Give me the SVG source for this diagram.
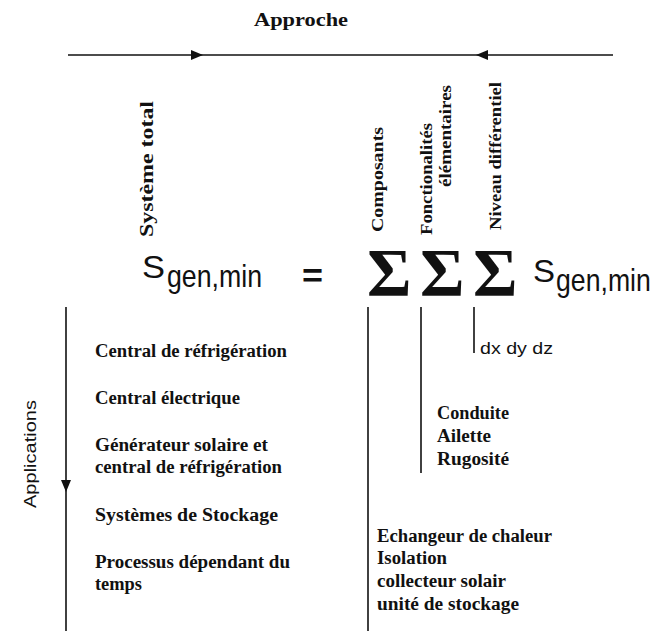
<svg xmlns="http://www.w3.org/2000/svg" width="653" height="631" viewBox="0 0 653 631">
<defs>
<style>
.s{font-family:"Liberation Serif","Times New Roman",serif;font-weight:bold;font-size:18px;fill:#111}
.r{font-family:"Liberation Serif","Times New Roman",serif;font-weight:bold;font-size:17px;fill:#111}
.sig{font-family:"Liberation Serif","Times New Roman",serif;font-weight:bold;font-size:68px;fill:#111}
.a{font-family:"Liberation Sans",Arial,sans-serif;fill:#111}
.ln{stroke:#111;stroke-width:1.6;fill:none}
</style>
</defs>
<rect width="653" height="631" fill="#fff"/>
<g id="connectors">
<line class="ln" x1="68" y1="55" x2="613" y2="55" stroke-width="2"/>
<polygon points="203,55 191,50 191,60" fill="#111"/>
<polygon points="476,55 488,50 488,60" fill="#111"/>
<line class="ln" x1="66" y1="307" x2="66" y2="631"/>
<polygon points="66,492 61,480 71,480" fill="#111"/>
<line class="ln" x1="368" y1="307" x2="368" y2="631"/>
<line class="ln" x1="421" y1="307" x2="421" y2="473"/>
<line class="ln" x1="474" y1="307" x2="474" y2="353"/>
</g>
<g id="approche"><text class="s" x="254" y="26" textLength="94" lengthAdjust="spacingAndGlyphs">Approche</text></g>
<g id="systeme-total"><text class="s" transform="translate(153,237) rotate(-90)" textLength="136" lengthAdjust="spacingAndGlyphs">Système total</text></g>
<g id="composants"><text class="r" transform="translate(383,232) rotate(-90)" textLength="105" lengthAdjust="spacingAndGlyphs">Composants</text></g>
<g id="fonctionalites"><text class="r" transform="translate(432,235) rotate(-90)" textLength="112" lengthAdjust="spacingAndGlyphs">Fonctionalités</text>
<text class="r" transform="translate(451,187) rotate(-90)" textLength="102" lengthAdjust="spacingAndGlyphs">élémentaires</text></g>
<g id="niveau"><text class="r" transform="translate(501,230) rotate(-90)" textLength="148" lengthAdjust="spacingAndGlyphs">Niveau différentiel</text></g>
<g id="applications"><text class="a" font-size="16" transform="translate(36,508) rotate(-90)" textLength="108" lengthAdjust="spacingAndGlyphs">Applications</text></g>
<g id="equation">
<text class="a" font-size="32" x="142" y="278" textLength="23" lengthAdjust="spacingAndGlyphs">S</text>
<text class="a" font-size="32" x="167" y="287" textLength="95" lengthAdjust="spacingAndGlyphs">gen,min</text>
<text class="a" font-size="34" font-weight="bold" x="302" y="287" textLength="21" lengthAdjust="spacingAndGlyphs">=</text>
<text class="sig" x="367" y="295">Σ</text>
<text class="sig" x="420" y="295">Σ</text>
<text class="sig" x="473" y="295">Σ</text>
<text class="a" font-size="32" x="533" y="282" textLength="22" lengthAdjust="spacingAndGlyphs">S</text>
<text class="a" font-size="31" transform="translate(556,291) scale(0.86,1)">gen,min</text>
<text class="a" font-size="17" x="480" y="354" textLength="73" lengthAdjust="spacingAndGlyphs">dx dy dz</text>
</g>
<g id="applications-list">
<text class="s" x="95" y="357" textLength="192" lengthAdjust="spacingAndGlyphs">Central de réfrigération</text>
<text class="s" x="95" y="404" textLength="145" lengthAdjust="spacingAndGlyphs">Central électrique</text>
<text class="s" x="95" y="451" textLength="173" lengthAdjust="spacingAndGlyphs">Générateur solaire et</text>
<text class="s" x="95" y="473" textLength="187" lengthAdjust="spacingAndGlyphs">central de réfrigération</text>
<text class="s" x="95" y="521" textLength="183" lengthAdjust="spacingAndGlyphs">Systèmes de Stockage</text>
<text class="s" x="95" y="568" textLength="195" lengthAdjust="spacingAndGlyphs">Processus dépendant du</text>
<text class="s" x="95" y="590" textLength="47" lengthAdjust="spacingAndGlyphs">temps</text>
</g>
<g id="elements-list">
<text class="s" x="437" y="419" textLength="72" lengthAdjust="spacingAndGlyphs">Conduite</text>
<text class="s" x="437" y="442" textLength="54" lengthAdjust="spacingAndGlyphs">Ailette</text>
<text class="s" x="437" y="465" textLength="72" lengthAdjust="spacingAndGlyphs">Rugosité</text>
</g>
<g id="composants-list">
<text class="s" x="377" y="542" textLength="175" lengthAdjust="spacingAndGlyphs">Echangeur de chaleur</text>
<text class="s" x="377" y="564" textLength="70" lengthAdjust="spacingAndGlyphs">Isolation</text>
<text class="s" x="377" y="587" textLength="129" lengthAdjust="spacingAndGlyphs">collecteur solair</text>
<text class="s" x="377" y="610" textLength="142" lengthAdjust="spacingAndGlyphs">unité de stockage</text>
</g>
</svg>
